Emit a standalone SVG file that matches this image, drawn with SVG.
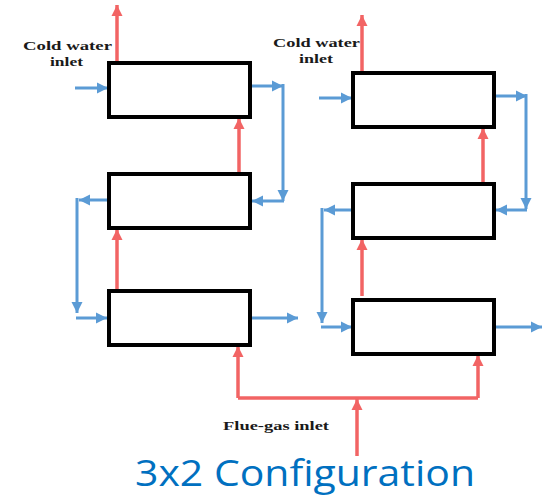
<svg xmlns="http://www.w3.org/2000/svg" width="544" height="497" viewBox="0 0 544 497">
<defs>
<marker id="ab" markerUnits="userSpaceOnUse" markerWidth="12" markerHeight="12" viewBox="0 0 12 12" refX="11" refY="6" orient="auto"><path d="M0 0.5 L11 6 L0 11.5 Z" fill="#5B9BD5"/></marker>
<marker id="ar" markerUnits="userSpaceOnUse" markerWidth="12" markerHeight="12" viewBox="0 0 12 12" refX="11" refY="6" orient="auto"><path d="M0 0.5 L11 6 L0 11.5 Z" fill="#F26464"/></marker>
<style>
.box{fill:#fff;stroke:#000;stroke-width:4}
.b{fill:none;stroke:#5B9BD5;stroke-width:3;marker-end:url(#ab)}
.r{fill:none;stroke:#F26464;stroke-width:3.5;marker-end:url(#ar)}
.rl{fill:none;stroke:#F26464;stroke-width:3.5}
.lbl{font-family:"Liberation Serif",serif;font-weight:bold;font-size:12px;fill:#1a1a1a}
.title{font-family:"Open Sans","Liberation Sans",sans-serif;font-size:37px;fill:#0070C0}
</style>
</defs>
<g id="connectors">
<path class="r" d="M117 63 V5"/>
<path class="r" d="M239 173 V118"/>
<path class="r" d="M117 289 V229"/>
<path class="r" d="M362 72 V15"/>
<path class="r" d="M483 183 V128"/>
<path class="r" d="M362 296 V239"/>
<path class="rl" d="M238 398 H478"/>
<path class="r" d="M238 398 V346"/>
<path class="r" d="M478 398 V355"/>
<path class="r" d="M357 456 V399"/>
<path class="b" d="M75 88 H108"/>
<path class="b" d="M250 86 H283"/>
<path class="b" d="M283 84 V201"/>
<path class="b" d="M284 201 H252"/>
<path class="b" d="M108 200 H79"/>
<path class="b" d="M77 198 V313"/>
<path class="b" d="M76 318 H107"/>
<path class="b" d="M250 318 H298"/>
<path class="b" d="M319 98 H352"/>
<path class="b" d="M494 96 H527"/>
<path class="b" d="M526 94 V209"/>
<path class="b" d="M527 210 H496"/>
<path class="b" d="M353 210 H324"/>
<path class="b" d="M322 208 V323"/>
<path class="b" d="M321 327 H352"/>
<path class="b" d="M494 327 H542"/>
</g>
<g id="box-l1"><rect class="box" x="109" y="63" width="141" height="54"/></g>
<g id="box-l2"><rect class="box" x="109" y="174" width="141" height="54"/></g>
<g id="box-l3"><rect class="box" x="109" y="291" width="141" height="54"/></g>
<g id="box-r1"><rect class="box" x="353" y="73" width="141" height="54"/></g>
<g id="box-r2"><rect class="box" x="353" y="184" width="141" height="54"/></g>
<g id="box-r3"><rect class="box" x="353" y="300" width="141" height="54"/></g>
<g id="labels">
<text class="lbl" x="23" y="50" textLength="89" lengthAdjust="spacingAndGlyphs">Cold water</text>
<text class="lbl" x="50" y="66" textLength="33" lengthAdjust="spacingAndGlyphs">inlet</text>
<text class="lbl" x="273" y="47" textLength="87" lengthAdjust="spacingAndGlyphs">Cold water</text>
<text class="lbl" x="299" y="63" textLength="34" lengthAdjust="spacingAndGlyphs">inlet</text>
<text class="lbl" x="223" y="430" textLength="106" lengthAdjust="spacingAndGlyphs">Flue-gas inlet</text>
<text class="title" x="135" y="486" textLength="340" lengthAdjust="spacingAndGlyphs">3x2 Configuration</text>
</g>
</svg>
